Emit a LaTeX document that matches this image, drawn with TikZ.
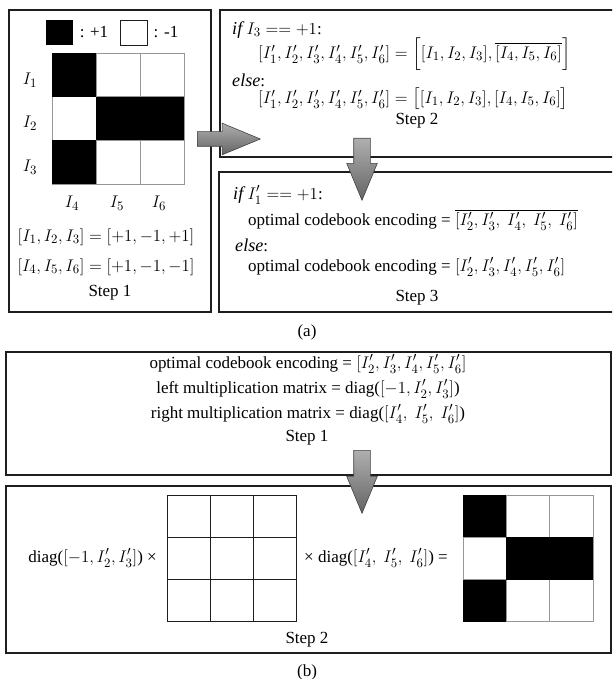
\documentclass[tikz,border=0pt]{standalone}
\usepackage{amsmath,amssymb}
\usepackage{fontspec}
\setmainfont{Liberation Serif}
\DeclareMathSizes{14.5}{15.5}{11}{8}
\usepackage{tikz}
\usetikzlibrary{arrows.meta,positioning,shapes.arrows,fit,calc}
\usepackage{xcolor}
\definecolor{gridgray}{RGB}{150,150,150}
\definecolor{framedark}{RGB}{30,30,30}
\definecolor{arrowlight}{RGB}{175,175,175}
\definecolor{arrowdark}{RGB}{100,100,100}
\tikzset{
  panel/.style={draw=framedark,line width=0.9pt,inner sep=0pt},
  txt/.style={inner sep=0pt,align=center},
  txtl/.style={inner sep=0pt,anchor=west},
  cellg/.style={draw=gridgray,line width=0.7pt},
  cellk/.style={draw=framedark,line width=0.8pt},
  onecell/.style={fill=black},
  blockarrow/.style={single arrow,draw=black!75,line width=0.5pt,inner xsep=0pt,
    minimum width=0pt,single arrow tip angle=45,anchor=tail,
    top color=arrowlight,bottom color=arrowdark}
}
\begin{document}
\begin{tikzpicture}[x=0.03cm,y=-0.03cm,font=\fontsize{14.5}{17}\selectfont]
  \useasboundingbox (0,0) rectangle (612,679);
  \clip (0,0) rectangle (612,679);
  % (a) panels
  \node[panel,fit={(9,10) (211,312)}] (stepA1) {};
  \node[panel,fit={(220,10) (625,157)}] (stepA2) {};
  \node[panel,fit={(219,172) (625,312)}] (stepA3) {};
  % legend
  \fill[black] (46,20) rectangle (73,45);
  \node[txt] (legplus) at (94,32) {: +1};
  \draw[framedark,line width=0.6pt] (120,20) rectangle (147,45);
  \node[txt] (legminus) at (166,32) {: -1};
  % sign matrix
  \foreach \r in {0,1,2} \foreach \c in {0,1,2}
    \draw[cellg] ({52+44*\c},{53+43.7*\r}) rectangle +(44,43.7);
  \foreach \r/\c in {0/0,1/1,1/2,2/0}
    \fill[onecell] ({52+44*\c},{53+43.7*\r}) rectangle +(44,43.7);
  \node[txt] (rowI1) at (30,80) {$I_1$};
  \node[txt] (rowI2) at (30,123) {$I_2$};
  \node[txt] (rowI3) at (30,167) {$I_3$};
  \node[txt] (colI4) at (72,203) {$I_4$};
  \node[txt] (colI5) at (117,203) {$I_5$};
  \node[txt] (colI6) at (159,203) {$I_6$};
  \node[txt] (eqrow) at (106,237) {$[I_1,I_2,I_3]=[+1,-1,+1]$};
  \node[txt] (eqcol) at (106,267) {$[I_4,I_5,I_6]=[+1,-1,-1]$};
  \node[txt] (labA1) at (110,293) {Step 1};
  % step 2 text
  \node[txtl] (ifA) at (232,30) {$\mathit{if}\ I_3 == +1$:};
  \node[txtl] (thenA) at (258,54) {$[I_1',I_2',I_3',I_4',I_5',I_6'] = \Big[[I_1,I_2,I_3],\overline{[I_4,I_5,I_6]}\Big]$};
  \node[txtl] (elseA) at (232,80) {$\mathit{else}$:};
  \node[txtl] (otherA) at (258,99) {$[I_1',I_2',I_3',I_4',I_5',I_6'] = \big[[I_1,I_2,I_3],[I_4,I_5,I_6]\big]$};
  \node[txt] (labA2) at (417,121) {Step 2};
  % step 3 text
  \node[txtl] (ifB) at (233,195) {$\mathit{if}\ I_1' == +1$:};
  \node[txtl] (thenB) at (248,220) {optimal codebook encoding = $\overline{[I_2',I_3',\ I_4',\ I_5',\ I_6']}$};
  \node[txtl] (elseB) at (235,245) {$\mathit{else}$:};
  \node[txtl] (otherB) at (248,267) {optimal codebook encoding = $[I_2',I_3',I_4',I_5',I_6']$};
  \node[txt] (labA3) at (417,298) {Step 3};
  \node[txt] (capA) at (307,332) {(a)};
  % (b) panels
  \node[panel,fit={(6,352) (611,475)}] (stepB1) {};
  \node[panel,fit={(6,486) (611,653)}] (stepB2) {};
  \node[txt] (codeB) at (308,364) {optimal codebook encoding = $[I_2',I_3',I_4',I_5',I_6']$};
  \node[txt] (leftB) at (308,389) {left multiplication matrix = diag($[-1,I_2',I_3']$)};
  \node[txt] (rightB) at (308,414) {right multiplication matrix = diag($[I_4',\ I_5',\ I_6']$)};
  \node[txt] (labB1) at (307,438) {Step 1};
  % plain matrix and result
  \foreach \r in {0,1,2} \foreach \c in {0,1,2}
    \draw[cellk] ({167+43*\c},{495+42.3*\r}) rectangle +(43,42.3);
  \foreach \r in {0,1,2} \foreach \c in {0,1,2}
    \draw[cellg] ({463+43.3*\c},{495+42.3*\r}) rectangle +(43.3,42.3);
  \foreach \r/\c in {0/0,1/1,1/2,2/0}
    \fill[onecell] ({463+43.3*\c},{495+42.3*\r}) rectangle +(43.3,42.3);
  \node[txt,anchor=east] (leftmul) at (157,558) {diag($[-1,I_2',I_3']$) ×};
  \node[txt,anchor=west] (rightmul) at (304,558) {× diag($[I_4',\ I_5',\ I_6']$) =};
  \node[txt] (labB2) at (307,640) {Step 2};
  \node[txt] (capB) at (307,672) {(b)};
  % block arrows
  \node[blockarrow,inner ysep=0.21cm,single arrow head extend=0.255cm,minimum height=1.89cm] (arrA12) at (197,139) {};
  \node[blockarrow,rotate=-90,inner ysep=0.24cm,single arrow head extend=0.21cm,minimum height=1.86cm] (arrA23) at (362,138) {};
  \node[blockarrow,rotate=-90,inner ysep=0.24cm,single arrow head extend=0.21cm,minimum height=1.89cm] (arrB12) at (362,450) {};
\end{tikzpicture}
\end{document}
